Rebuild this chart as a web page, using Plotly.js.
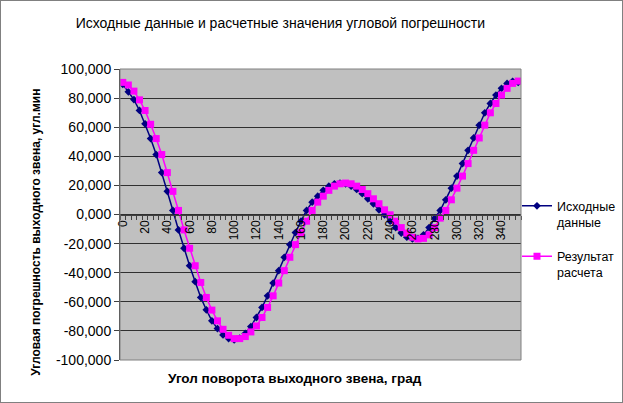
<!DOCTYPE html>
<html>
<head>
<meta charset="utf-8">
<script src="https://cdn.plot.ly/plotly-3.0.1.min.js"></script>
<style>
  html, body { margin: 0; padding: 0; background: #fff; }
  #wrap { position: relative; width: 623px; height: 403px; }
  #chart { width: 623px; height: 403px; }
  #frame { position: absolute; left: 0; top: 0; width: 621px; height: 401px; border: 1px solid #808080; pointer-events: none; }
</style>
</head>
<body>
<div id="wrap"><div id="chart"></div><div id="frame"></div></div>
<script>
// Угол поворота выходного звена, град
const angles = [0,5,10,15,20,25,30,35,40,45,50,55,60,65,70,75,80,85,90,95,
  100,105,110,115,120,125,130,135,140,145,150,155,160,165,170,175,180,185,190,195,
  200,205,210,215,220,225,230,235,240,245,250,255,260,265,270,275,280,285,290,295,
  300,305,310,315,320,325,330,335,340,345,350,355];

// Исходные данные
const sourceData = [89.5,84.3,79.0,71.5,62.3,52.2,41.2,28.8,15.9,2.8,
  -10.6,-23.2,-35.2,-46.2,-57.0,-65.5,-73.1,-78.4,-82.8,-85.3,
  -86.2,-85.0,-81.8,-77.0,-70.8,-63.9,-55.9,-47.1,-38.6,-29.4,
  -20.7,-12.4,-4.6,2.8,8.5,12.6,16.6,19.5,21.1,21.6,
  21.1,19.5,17.2,14.3,10.8,7.4,3.2,-0.2,-4.6,-9.0,
  -12.8,-15.6,-16.8,-16.4,-14.0,-9.0,-2.5,2.8,10.1,18.1,
  26.4,35.0,44.1,52.6,61.4,69.9,76.3,82.1,86.7,90.1,
  91.5,90.8];

// Результат расчета
const calcResult = [90.8,89.0,84.8,78.8,71.5,62.0,52.2,41.2,28.8,15.9,
  2.8,-10.6,-23.2,-35.2,-46.7,-57.0,-65.7,-73.1,-78.9,-83.0,
  -85.3,-85.3,-83.9,-80.7,-76.6,-70.8,-63.9,-55.9,-47.1,-38.6,
  -29.4,-20.7,-12.6,-4.6,2.8,8.5,12.6,16.6,19.5,21.1,
  21.6,21.1,19.5,17.2,14.3,10.8,7.4,3.2,-0.2,-4.6,
  -9.0,-12.8,-15.6,-16.8,-16.4,-14.0,-9.0,-2.5,2.8,10.1,
  18.1,26.4,35.0,44.1,52.6,61.4,69.9,76.3,82.1,86.7,
  90.1,91.7];

const xTickVals = [0,20,40,60,80,100,120,140,160,180,200,220,240,260,280,300,320,340];
const xTickText = ['0','20','40','60','80','100','120','140','160','180','200','220','240','260','280','300','320','340'];
const yTickVals = [100,80,60,40,20,0,-20,-40,-60,-80,-100];
const yTickText = ['100,000','80,000','60,000','40,000','20,000','0,000','-20,000','-40,000','-60,000','-80,000','-100,000'];

const seriesNames = ['Исходные<br>данные', 'Результат<br>расчета'];

const FONT = 'Liberation Sans, Arial, sans-serif';

const traces = [
  {
    x: angles, y: sourceData, name: seriesNames[0], type: 'scatter', mode: 'lines+markers',
    legendgroup: 'g1',
    line: { color: '#000080', width: 1.5 },
    marker: { symbol: 'diamond', size: 6, color: '#000080' }
  },
  {
    x: angles, y: calcResult, name: seriesNames[1], type: 'scatter', mode: 'lines+markers',
    legendgroup: 'g2',
    line: { color: '#FF00FF', width: 1.5 },
    marker: { symbol: 'square', size: 7, color: '#FF00FF' }
  }
];

const layout = {
  width: 623, height: 403,
  margin: { l: 120, r: 102, t: 69, b: 43, autoexpand: false },
  paper_bgcolor: '#FFFFFF',
  plot_bgcolor: '#C0C0C0',
  font: { family: FONT, size: 12, color: '#000' },
  title: {
    text: 'Исходные данные и расчетные значения угловой погрешности',
    font: { family: FONT, size: 14, color: '#000' },
    x: 0.45, xanchor: 'center', y: 0.942, yanchor: 'middle'
  },
  showlegend: true,
  legend: {
    x: 0.99, xanchor: 'left', y: 0.415, yanchor: 'middle',
    font: { family: FONT, size: 12.5, color: '#000' },
    bgcolor: 'rgba(0,0,0,0)', borderwidth: 0,
    tracegroupgap: 15, itemwidth: 30, valign: 'top'
  },
  xaxis: {
    range: [-2.5, 357.5],
    tickvals: xTickVals, ticktext: xTickText,
    tickangle: -90,
    ticks: '',
    minor: { ticks: 'outside', dtick: 5, tick0: -2.5, ticklen: 4, tickcolor: '#404040', showgrid: false },
    showgrid: false, zeroline: false,
    showline: true, linecolor: '#404040', linewidth: 1,
    anchor: 'free', position: 0.5,
    tickfont: { family: FONT, size: 12, color: '#000' }
  },
  yaxis: {
    range: [-100, 100],
    tickvals: yTickVals, ticktext: yTickText,
    ticks: 'outside', ticklen: 5, tickcolor: '#404040',
    showgrid: true, gridcolor: '#303030', gridwidth: 1,
    zeroline: false,
    showline: true, linecolor: '#404040', linewidth: 1,
    tickfont: { family: FONT, size: 14, color: '#000' }
  },
  shapes: [
    { type: 'rect', xref: 'paper', yref: 'paper', x0: 0, y0: 0, x1: 1, y1: 1,
      line: { color: '#808080', width: 1 }, fillcolor: 'rgba(0,0,0,0)', layer: 'above' }
  ],
  annotations: [
    { text: '<b>Угол поворота выходного звена, град</b>', xref: 'paper', yref: 'paper',
      x: 0.436, y: -0.062, xanchor: 'center', yanchor: 'middle', showarrow: false,
      font: { family: FONT, size: 13.5, color: '#000' } },
    { text: '<b>Угловая погрешность выходного звена, угл.мин</b>', xref: 'paper', yref: 'paper',
      x: -0.21, y: 0.44, xanchor: 'center', yanchor: 'middle', showarrow: false, textangle: -90,
      font: { family: FONT, size: 12, color: '#000' } }
  ]
};

Plotly.newPlot('chart', traces, layout, { displayModeBar: false, staticPlot: true });
</script>
</body>
</html>
